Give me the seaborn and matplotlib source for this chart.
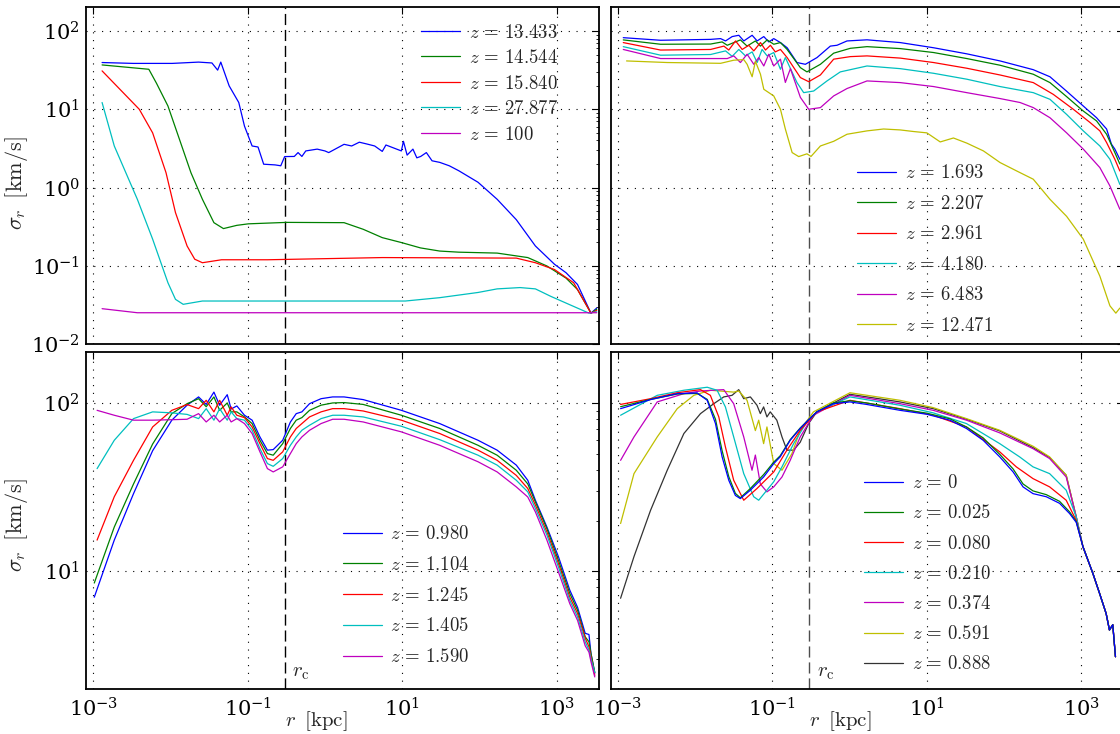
import matplotlib
matplotlib.use("Agg")
import matplotlib.pyplot as plt
import matplotlib.transforms as mtransforms
from matplotlib.ticker import FixedLocator, NullLocator, LogLocator, LogFormatterSciNotation, NullFormatter
import seaborn as sns

# ---------------- data ----------------
r_core = 0.3  # kpc, dashed line

# top-left panel
tl_r_13433 = [1.3e-3, 3.3e-3, 0.0105, 0.0231, 0.0344, 0.0408, 0.0448, 0.0575, 0.0766, 0.0908, 0.114, 0.136, 0.161,
              0.226, 0.268, 0.301, 0.401, 0.449, 0.503, 0.565, 0.794, 1.0, 1.12, 1.77, 2.22, 2.79, 3.51, 4.41, 5.53,
              6.17, 9.77, 10.4, 11.6, 13.8, 15.5, 17.4, 20.6, 24.4, 30.7, 40.8, 54.3, 96.2, 170, 301, 532, 942,
              1327, 1870, 2790, 3310]
tl_s_13433 = [39.5, 38.5, 38.5, 40, 39, 31.6, 40, 19.9, 12.2, 6.1, 3.4, 3.3, 1.99, 1.95, 1.9, 2.49, 2.5, 2.8, 2.5,
              2.94, 3.1, 2.94, 2.8, 3.57, 3.4, 3.8, 3.6, 3.4, 2.9, 3.5, 2.94, 3.9, 2.6, 3.1, 2.4, 2.5, 2.8, 2.2, 2.1,
              1.9, 1.64, 1.17, 0.71, 0.39, 0.18, 0.105, 0.082, 0.058, 0.025, 0.029]
tl_r_14544 = [1.3e-3, 5.24e-3, 6.58e-3, 9.27e-3, 0.0131, 0.0184, 0.0259, 0.0365, 0.0485, 0.0723, 0.102, 0.319, 1.77,
              3.13, 5.53, 9.79, 17.3, 30.7, 54.3, 170, 424, 750, 1327, 1870, 2790, 3310]
tl_s_14544 = [36.8, 32.4, 21.5, 11, 4.1, 1.55, 0.71, 0.357, 0.30, 0.33, 0.345, 0.36, 0.357, 0.294, 0.23, 0.199, 0.17,
              0.155, 0.15, 0.146, 0.128, 0.1, 0.07, 0.05, 0.025, 0.028]
tl_r_15840 = [1.3e-3, 3.94e-3, 5.87e-3, 8.75e-3, 0.0116, 0.0164, 0.0206, 0.0259, 0.0458, 0.18, 5.53, 301, 532, 942,
              1667, 2790, 3310]
tl_s_15840 = [30.9, 10, 5.0, 1.55, 0.48, 0.18, 0.122, 0.110, 0.12, 0.12, 0.128, 0.126, 0.11, 0.09, 0.061, 0.025, 0.027]
tl_r_27877 = [1.3e-3, 1.87e-3, 3.72e-3, 5.87e-3, 9.27e-3, 0.0116, 0.0146, 0.0259, 11, 30.7, 96.2, 170, 337, 532, 840,
              1486, 2630, 3310]
tl_s_27877 = [12.2, 3.4, 0.71, 0.22, 0.061, 0.0375, 0.0324, 0.0357, 0.0357, 0.0394, 0.0459, 0.051, 0.053, 0.051,
              0.041, 0.032, 0.025, 0.026]
tl_r_100 = [1.3e-3, 3.72e-3, 3310]
tl_s_100 = [0.0285, 0.0253, 0.0253]

# top-right panel
tr_r_1693 = [1.17e-3, 3.56e-3, 0.0158, 0.0213, 0.0247, 0.0301, 0.0367, 0.0426, 0.0546, 0.0634, 0.0773, 0.0897, 0.104,
             0.127, 0.155, 0.208, 0.267, 0.378, 0.562, 0.686, 0.925, 1.68, 4.52, 12.2, 32.9, 88.7, 239, 393, 646,
             1062, 1578, 2128, 2455, 2723, 3160]
tr_s_1693 = [82, 76, 78, 79.8, 74.5, 84.7, 88, 74.5, 88, 74.5, 84.7, 72.4, 79.8, 71, 61, 39.5, 37.5, 45.7, 64, 65.6,
             74.5, 77, 71, 61, 51, 41.4, 32, 26, 17, 11, 7.8, 5.6, 3.6, 3.1, 2.3]
tr_r_2207 = [1.17e-3, 3.56e-3, 0.0158, 0.0223, 0.026, 0.0316, 0.0385, 0.047, 0.0602, 0.07, 0.0854, 0.104, 0.127,
             0.155, 0.23, 0.28, 0.418, 0.621, 1.02, 1.68, 4.52, 12.2, 32.9, 88.7, 239, 393, 646, 1062, 1578, 2128,
             2723, 3160]
tr_s_2207 = [76.8, 67.6, 68, 72.4, 65.6, 71, 76.8, 64, 74.5, 64, 76.8, 67.6, 71, 58, 34, 30, 37.5, 52, 60, 63, 59.5,
             53, 44.4, 36.5, 28, 21.9, 14.5, 9.5, 7.1, 4.8, 2.8, 2.0]
tr_r_2961 = [1.17e-3, 3.56e-3, 0.0158, 0.0235, 0.0272, 0.0333, 0.0406, 0.0494, 0.0574, 0.07, 0.0813, 0.0942, 0.109,
             0.127, 0.155, 0.23, 0.295, 0.418, 0.621, 1.02, 1.68, 4.52, 12.2, 32.9, 88.7, 239, 434, 789, 1294, 1742,
             2128, 2723, 3160]
tr_s_2961 = [71, 57, 58, 64, 57, 74.5, 58, 65.6, 55.6, 71, 57, 65.6, 54, 58, 45.7, 25.4, 22.5, 27.4, 43.6, 47, 48,
             45, 39.5, 33.4, 27.4, 21.9, 15.5, 10, 6.8, 5.3, 3.76, 2.3, 1.63]
tr_r_4180 = [1.17e-3, 3.56e-3, 0.0158, 0.0247, 0.0301, 0.0367, 0.0448, 0.0546, 0.0634, 0.0734, 0.0854, 0.104, 0.127,
             0.147, 0.208, 0.254, 0.342, 0.509, 0.757, 1.68, 4.52, 12.2, 32.9, 88.7, 239, 393, 646, 1062, 1742, 2350,
             3160]
tr_s_4180 = [63, 49, 50, 55.6, 47.4, 58, 48, 54, 39.5, 58, 48, 53, 32.4, 45.7, 21.9, 16.3, 17.1, 23, 30, 35.7, 33,
             28.8, 24.2, 19.5, 16.3, 13.4, 8.6, 5.3, 3.4, 2.3, 1.1]
tr_r_6483 = [1.17e-3, 3.56e-3, 0.026, 0.0316, 0.0385, 0.047, 0.0574, 0.0665, 0.0773, 0.0897, 0.104, 0.127, 0.147,
             0.171, 0.23, 0.295, 0.418, 0.621, 0.925, 1.68, 4.52, 12.2, 32.9, 88.7, 161, 239, 393, 646, 1062, 1742,
             2350, 3160]
tr_s_6483 = [58, 44.4, 44.4, 48, 39.5, 50.4, 37.5, 45.7, 35.7, 50.4, 35.7, 43.6, 22, 33, 14.2, 10, 10.5, 14.8, 18.4,
             23, 21.9, 19.5, 16.3, 13.7, 12.2, 10.5, 7.8, 5.0, 3.1, 1.8, 1.05, 0.53]
tr_r_12471 = [1.29e-3, 4.35e-3, 0.0213, 0.0316, 0.0426, 0.047, 0.0546, 0.0602, 0.07, 0.0773, 0.104, 0.127, 0.147,
              0.18, 0.219, 0.28, 0.316, 0.418, 0.621, 0.925, 1.68, 2.75, 4.52, 6.73, 10, 14.9, 22.1, 32.9, 54.1,
              88.7, 146, 239, 393, 646, 1062, 1742, 2350, 2805, 3160]
tr_s_12471 = [41.4, 39.5, 38.6, 42.3, 43, 37.5, 26, 41, 28, 18, 14.8, 10, 5.6, 2.8, 2.49, 2.7, 2.5, 3.4, 3.9, 4.8,
              5.3, 5.6, 5.45, 5.2, 5.0, 3.83, 4.3, 3.7, 2.94, 2.09, 1.63, 1.28, 0.71, 0.43, 0.22, 0.074, 0.031,
              0.025, 0.029]

# bottom-left panel
bl_r_outer = [1.87e-3, 3.32e-3, 5.87e-3, 0.0104, 0.0164, 0.0231, 0.029, 0.0365, 0.0433, 0.0543, 0.061, 0.0723,
              0.0908, 0.114, 0.144, 0.18, 0.214, 0.284, 0.357, 0.425, 0.503, 0.632, 0.891, 1.26, 1.77, 3.13, 9.79,
              30.7, 96.2, 170, 301, 424, 532, 750, 1057, 1486, 1870, 2350, 2630, 2790, 3126]
bl_r_first_a = 1.03e-3
bl_r_first_b = 1.12e-3
bl_s_0980 = [7.0, 15.3, 28.9, 52, 79, 97, 108.6, 98, 116, 96.9, 112, 92, 96, 84.5, 79, 62.8, 52.4, 52.8, 60, 77,
             86.4, 88.5, 99, 106, 108.6, 108.6, 104.7, 90.4, 75.4, 60, 52.4, 42.7, 34.7, 26.4, 18.3, 12.2, 7.7, 6.1,
             4.27, 4.2, 3.24, 2.47]
bl_s_1104 = [8.5, 18.3, 33, 57, 86.4, 99, 106, 95, 108.6, 90.4, 100, 88.5, 88.5, 82.6, 75.4, 60, 50, 48.9, 57.3,
             70.5, 79, 81.8, 90.4, 97, 100, 100.5, 98, 84.5, 70.5, 56, 48.9, 39.8, 33, 25.8, 17.9, 11.6, 7.36, 5.86,
             4.07, 3.8, 3.24, 2.5]
bl_s_1245 = [15.3, 27.7, 45.6, 72, 90.4, 97.8, 92.5, 103.7, 88.5, 103.7, 84.5, 94.7, 84.5, 81.8, 72, 57.3, 46.7,
             45.6, 51.2, 62.8, 70.5, 75.4, 82.6, 88.5, 92.5, 92.5, 89.6, 79, 65.8, 52.4, 45.6, 37.1, 31, 24.7, 17.1,
             11.1, 7.0, 5.6, 4.0, 3.55, 3.1, 2.4]
bl_s_1405 = [40.7, 60, 80.7, 88.5, 87.3, 85.5, 80.7, 92.5, 79, 92.5, 79, 88.5, 80.7, 79, 68.8, 53.5, 43.6, 42, 46.7,
             56, 62.8, 68.8, 73.7, 80.7, 84.5, 84.5, 82.6, 72.7, 60.5, 48.9, 42.7, 34.7, 29.6, 23.6, 16.4, 10.6,
             6.7, 5.35, 3.8, 3.4, 3.0, 2.5]
bl_s_1590 = [90.4, 84.5, 79, 79, 79.5, 80, 86.4, 77.1, 84.5, 77.1, 84.5, 77.1, 80.7, 75.4, 65.8, 51.2, 40.7, 38.9,
             41.7, 50, 57.3, 62.8, 68.8, 75.4, 80, 80, 77.1, 67.3, 56, 44.7, 38.9, 31.7, 27.6, 22.5, 15.3, 9.9, 6.4,
             5.1, 3.6, 3.3, 2.9, 2.35]

# bottom-right panel
br_r_tail = [1050, 1413, 1722, 2099, 2317, 2559, 2773]
br_s_tail = [14, 9.7, 7.4, 5.6, 4.47, 4.8, 3.1]
br_r_low = [1.08e-3, 2.64e-3, 5.85e-3, 0.0106, 0.0143, 0.0183, 0.0223, 0.0272, 0.0331, 0.0384, 0.0518, 0.0769,
            0.104, 0.126, 0.17, 0.229, 0.294, 0.376, 0.618, 1.01, 1.66, 4.49, 9.93, 19.9, 32.6, 53.6, 87.9, 131,
            176, 237, 352, 524, 706, 861]
br_s_0000 = [92.5, 104.7, 113.6, 114.7, 103.7, 75.4, 47.8, 34.7, 28.2, 27, 30.3, 36.3, 43.6, 47.8, 60, 70.5, 79.5,
             88.5, 99, 101.4, 98, 90.4, 85.7, 79, 70.5, 60, 47.8, 38.9, 31.7, 28.9, 27.7, 25.3, 22, 19.5]
br_s_0025 = [95, 105, 113, 114, 105, 80, 52, 36.5, 29, 27.3, 31, 37.5, 44.5, 48.5, 60.5, 71, 79.5, 88.5, 100, 103,
             100, 92, 87, 80.5, 72, 62, 49.5, 40.5, 33, 30, 28.5, 26, 22.5, 19.7]
br_r_0080 = [1.08e-3, 2.64e-3, 5.85e-3, 0.0117, 0.0157, 0.0202, 0.0246, 0.0315, 0.0425, 0.0631, 0.104, 0.154,
             0.229, 0.376, 1.01, 4.49, 12.1, 32.6, 87.9, 144, 237, 389, 638, 861]
br_s_0080 = [98, 106, 115, 120, 111, 82.6, 54.8, 34.7, 26.4, 31, 38.9, 52.4, 68.8, 88.5, 103.7, 92.5, 84.5, 72,
             51.2, 41.7, 35.5, 31.7, 26.4, 20]
br_r_0210 = [1.08e-3, 3.22e-3, 7.13e-3, 0.0143, 0.0192, 0.0246, 0.0315, 0.0425, 0.0572, 0.0664, 0.0849, 0.104,
             0.133, 0.188, 0.279, 0.376, 1.01, 4.49, 12.1, 32.6, 87.9, 159, 237, 389, 638, 861]
br_s_0210 = [84.5, 111, 119, 124, 119, 94.7, 62.8, 38, 27.7, 26.4, 30.3, 34, 41.7, 57.3, 77.1, 88.5, 108.6, 96.9,
             87.3, 75.4, 57.3, 47.8, 41.7, 38, 30.3, 21]
br_r_0374 = [1.08e-3, 1.61e-3, 3.22e-3, 7.13e-3, 0.0117, 0.0234, 0.0315, 0.0425, 0.0544, 0.0601, 0.0697, 0.0849,
             0.104, 0.133, 0.17, 0.229, 0.34, 1.01, 4.49, 12.1, 32.6, 87.9, 237, 389, 638, 861]
br_s_0374 = [45.6, 62.8, 101.4, 113.6, 117.8, 120, 99, 62.8, 39.8, 49, 33, 29.6, 31.7, 36.3, 45.6, 62.8, 84.5, 111,
             99, 90.4, 79, 66.4, 53.5, 46.7, 36.3, 21]
br_r_0591 = [1.08e-3, 1.61e-3, 3.22e-3, 5.85e-3, 9.6e-3, 0.0157, 0.0315, 0.0366, 0.0469, 0.0601, 0.0664, 0.0769,
             0.0849, 0.104, 0.133, 0.179, 0.229, 0.34, 1.01, 4.49, 12.1, 32.6, 87.9, 237, 389, 638, 861]
br_s_0591 = [19.2, 38, 62.8, 92.5, 111, 119, 116, 117.8, 103.7, 68.5, 79, 57.3, 72, 43.6, 39.8, 50, 68.8, 88.5, 115,
             103.7, 93.8, 80.7, 68.8, 55.3, 47.8, 37.2, 21]
br_r_0888 = [1.08e-3, 1.61e-3, 2.64e-3, 4.34e-3, 7.13e-3, 0.0117, 0.0174, 0.0234, 0.03, 0.0366, 0.0425, 0.0518,
             0.0631, 0.0697, 0.0769, 0.0849, 0.0937, 0.114, 0.133, 0.154, 0.188, 0.229, 0.294, 0.376, 1.01, 4.49,
             12.1, 32.6, 87.9, 237, 389, 638, 861]
br_s_0888 = [6.9, 12.2, 23, 39.8, 65.8, 86.4, 99, 108.6, 111, 120, 106, 108.6, 96.9, 86.4, 94.7, 82.6, 88.5, 79,
             62.8, 52.4, 52.4, 58.4, 75.4, 88.5, 112.6, 101.4, 92.5, 80, 68.2, 54.3, 47.4, 37.2, 21]

# classic matplotlib single-letter colours
colors = [(0, 0, 1), (0, 0.5, 0), (1, 0, 0), (0, 0.75, 0.75), (0.75, 0, 0.75), (0.75, 0.75, 0), (0.2, 0.2, 0.2)]

tl_series = [(r"$z\,=\,13.433$", tl_r_13433, tl_s_13433), (r"$z\,=\,14.544$", tl_r_14544, tl_s_14544),
             (r"$z\,=\,15.840$", tl_r_15840, tl_s_15840), (r"$z\,=\,27.877$", tl_r_27877, tl_s_27877),
             (r"$z\,=\,100$", tl_r_100, tl_s_100)]
tr_series = [(r"$z\,=\,1.693$", tr_r_1693, tr_s_1693), (r"$z\,=\,2.207$", tr_r_2207, tr_s_2207),
             (r"$z\,=\,2.961$", tr_r_2961, tr_s_2961), (r"$z\,=\,4.180$", tr_r_4180, tr_s_4180),
             (r"$z\,=\,6.483$", tr_r_6483, tr_s_6483), (r"$z\,=\,12.471$", tr_r_12471, tr_s_12471)]
bl_ra = [bl_r_first_a] + bl_r_outer
bl_rb = [bl_r_first_b] + bl_r_outer
bl_series = [(r"$z\,=\,0.980$", bl_ra, bl_s_0980), (r"$z\,=\,1.104$", bl_ra, bl_s_1104),
             (r"$z\,=\,1.245$", bl_rb, bl_s_1245), (r"$z\,=\,1.405$", bl_rb, bl_s_1405),
             (r"$z\,=\,1.590$", bl_rb, bl_s_1590)]
br_series = [(r"$z\,=\,0$", br_r_low + br_r_tail, br_s_0000 + br_s_tail),
             (r"$z\,=\,0.025$", br_r_low + br_r_tail, br_s_0025 + br_s_tail),
             (r"$z\,=\,0.080$", br_r_0080 + br_r_tail, br_s_0080 + br_s_tail),
             (r"$z\,=\,0.210$", br_r_0210 + br_r_tail, br_s_0210 + br_s_tail),
             (r"$z\,=\,0.374$", br_r_0374 + br_r_tail, br_s_0374 + br_s_tail),
             (r"$z\,=\,0.591$", br_r_0591 + br_r_tail, br_s_0591 + br_s_tail),
             (r"$z\,=\,0.888$", br_r_0888 + br_r_tail, br_s_0888 + br_s_tail)]

x_ticks = [1e-3, 1e-1, 1e1, 1e3]
top_yticks = [1e-2, 1e-1, 1, 1e1, 1e2]
bot_yticks = [1e1, 1e2]

# ---------------- style ----------------
sns.set_theme(style="white", color_codes=False)
plt.rcParams.update({
    "font.family": "serif",
    "font.serif": ["DejaVu Serif"],
    "mathtext.fontset": "cm",
    "font.size": 14,
    "axes.edgecolor": "k",
    "axes.linewidth": 1.3,
    "axes.facecolor": "white",
    "figure.facecolor": "white",
    "xtick.direction": "in", "ytick.direction": "in",
    "xtick.top": True, "ytick.right": True,
    "xtick.color": "k", "ytick.color": "k",
    "xtick.major.size": 5, "ytick.major.size": 5,
    "ytick.minor.size": 2.5, "xtick.minor.size": 2.5,
    "xtick.major.width": 0.8, "ytick.major.width": 0.8, "ytick.minor.width": 0.6,
    "xtick.major.pad": 6, "ytick.major.pad": 4.5,
    "xtick.labelsize": 15, "ytick.labelsize": 15,
})

fig = plt.figure(figsize=(11.2, 7.34), dpi=100)
W = 0.4583
ax_tl = fig.add_axes([0.0768, 0.5309, W, 0.4591])
ax_tr = fig.add_axes([0.5453, 0.5309, W, 0.4591])
ax_bl = fig.add_axes([0.0768, 0.0617, W, 0.4583])
ax_br = fig.add_axes([0.5453, 0.0617, W, 0.4583])

panels = [
    (ax_tl, tl_series, (1e-2, 2e2), top_yticks, (0.6526, 0.952), 0.40, False, True, False),
    (ax_tr, tr_series, (1e-2, 2e2), top_yticks, (0.4798, 0.5345), 0.67, False, False, False),
    (ax_bl, bl_series, (2, 2e2), bot_yticks, (0.4997, 0.486), 0.68, True, True, False),
    (ax_br, br_series, (2, 2e2), bot_yticks, (0.4935, 0.6377), 0.65, True, False, True),
]

for ax, series, ylim, yt, anchor, lspace, bottom, left, first_on_top in panels:
    n = len(series)
    for i, ((lab, r, s), col) in enumerate(zip(series, colors)):
        z = 2 + (n - i) * 0.01 if first_on_top else 2 + i * 0.01
        sns.lineplot(x=r, y=s, color=col, label=lab, ax=ax, estimator=None, sort=False, lw=0.9, zorder=z)
    ax.set_xscale("log")
    ax.set_yscale("log")
    ax.set_xlim(8.05e-4, 3.58e3)
    ax.set_ylim(*ylim)
    ax.axvline(r_core, color="k" if left else "0.3", lw=1.0, dashes=(8, 3.5), zorder=1)
    ax.xaxis.set_major_locator(FixedLocator(x_ticks))
    ax.xaxis.set_minor_locator(NullLocator())
    ax.yaxis.set_major_locator(FixedLocator(yt))
    ax.yaxis.set_minor_locator(LogLocator(base=10, subs=[2, 3, 4, 5, 6, 7, 8, 9], numticks=20))
    ax.yaxis.set_minor_formatter(NullFormatter())
    ax.grid(True, which="major", color="k", lw=0.8, linestyle=(0, (1, 6)))
    if bottom:
        ax.xaxis.set_major_formatter(LogFormatterSciNotation())
        ax.set_xlabel(r"$r\;\;[\mathrm{kpc}]$", fontsize=15)
        ax.xaxis.set_label_coords(0.448, -0.060)
        trans = mtransforms.blended_transform_factory(ax.transData, ax.transAxes)
        ax.text(r_core * 1.25, 0.02, r"$r_\mathrm{c}$", transform=trans, ha="left", va="bottom", fontsize=15)
    else:
        ax.set_xticklabels([])
        ax.set_xlabel("")
    if left:
        ax.yaxis.set_major_formatter(LogFormatterSciNotation())
        ax.set_ylabel(r"$\sigma_r\;\;[\mathrm{km/s}]$", fontsize=16)
        ax.yaxis.set_label_coords(-0.11, 0.479 if not bottom else 0.487)
    else:
        ax.set_yticklabels([])
        ax.set_ylabel("")
    ax.legend(loc="upper left", bbox_to_anchor=anchor, frameon=False, fontsize=13.5, handlelength=2.1,
              handletextpad=0.45, labelspacing=lspace, borderpad=0, borderaxespad=0)
    for sp in ax.spines.values():
        sp.set_color("k")

fig.savefig("out.png", dpi=100)
